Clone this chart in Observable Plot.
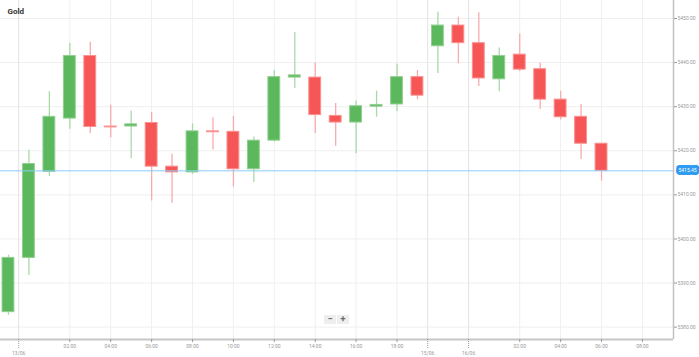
<!DOCTYPE html>
<html><head><meta charset="utf-8">
<script src="https://cdn.jsdelivr.net/npm/d3@7"></script>
<script src="https://cdn.jsdelivr.net/npm/@observablehq/plot@0.6"></script>
<style>
body{margin:0;background:#fff;font-family:Roboto,sans-serif}
#wrap{position:relative;width:699px;height:357px}
#zoom{position:absolute;left:324px;top:315px;display:flex;gap:1px;z-index:2}
#zoom span{display:block;width:12px;height:9px;background:#eeeeee;color:#666;font-size:9px;line-height:9px;text-align:center;font-weight:bold}
</style></head><body>
<div id="wrap"><div id="zoom"><span>−</span><span>+</span></div></div>
<script>
const title = "Gold";
const opens  = [5383.4,5395.7,5415.2,5427.3,5441.5,5425.5,5425.5,5426.3,5416.4,5415.1,5424.4,5424.3,5415.8,5422.3,5436.6,5436.6,5427.9,5426.4,5430.0,5430.5,5436.7,5443.7,5448.4,5444.4,5436.2,5441.8,5438.5,5431.6,5427.7,5421.6];
const highs  = [5396.3,5420.1,5433.4,5444.3,5444.6,5430.3,5429.0,5428.7,5419.2,5426.1,5427.5,5427.8,5423.1,5438.2,5446.8,5439.9,5430.7,5431.3,5433.5,5439.7,5438.2,5451.4,5450.3,5451.3,5443.3,5446.5,5439.9,5433.5,5430.5,5421.6];
const lows   = [5382.7,5391.7,5414.2,5424.9,5423.9,5422.9,5418.2,5408.6,5408.1,5414.6,5420.2,5411.8,5412.8,5422.0,5434.1,5423.9,5421.0,5419.3,5427.6,5428.9,5431.6,5437.5,5439.7,5434.6,5433.4,5438.0,5429.4,5427.0,5418.0,5413.1];
const closes = [5395.7,5417.0,5427.7,5441.5,5425.4,5425.3,5426.0,5416.4,5415.1,5424.4,5424.2,5415.8,5422.3,5436.7,5437.1,5428.1,5426.4,5430.1,5430.4,5436.7,5432.5,5448.4,5444.4,5436.4,5441.5,5438.4,5431.6,5427.6,5421.6,5415.45];
const hourTicks  = [3,5,7,9,11,13,15,17,19,25,27,29,31];
const hourLabels = ["02:00","04:00","06:00","08:00","10:00","12:00","14:00","16:00","18:00","02:00","04:00","06:00","08:00"];
const dateTicks  = [0.5,20.5,22.5];
const dateLabels = ["13/06","15/06","16/06"];
const yTicks = [5380,5390,5400,5410,5420,5430,5440,5450];
const lastPrice = 5415.45;
const xDomain = [-0.39, 32.52];
const yDomain = [5377.2, 5454.08];

const candles = opens.map((o,i)=>({i, open:o, high:highs[i], low:lows[i], close:closes[i], up: closes[i] >= o}));
const upC = candles.filter(d=>d.up), downC = candles.filter(d=>!d.up);
const hourMap = new Map(hourTicks.map((t,i)=>[t,hourLabels[i]]));
const dateMap = new Map(dateTicks.map((t,i)=>[t,dateLabels[i]]));

const GREEN="#5cb85c", GREEN_L="#a9d9a9", GREEN_S="#92cf92";
const RED="#f75656", RED_L="#f8abab", RED_S="#fa9090";

const chart = Plot.plot({
  width:699, height:357, marginLeft:0, marginRight:26, marginTop:0, marginBottom:18,
  style:{fontFamily:"Roboto, sans-serif", background:"#fff", overflow:"visible"},
  x:{domain:xDomain, axis:null, label:null},
  y:{domain:yDomain, axis:null, label:null},
  marks:[
    Plot.gridY(yTicks,{stroke:"#efefef", strokeOpacity:1}),
    Plot.gridX(hourTicks,{stroke:"#efefef", strokeOpacity:1}),
    Plot.gridX(dateTicks,{stroke:"#e3e3e3", strokeOpacity:1}),
    Plot.ruleX(upC,{x:"i", y1:"low", y2:"high", stroke:GREEN_L, strokeWidth:1.3}),
    Plot.ruleX(downC,{x:"i", y1:"low", y2:"high", stroke:RED_L, strokeWidth:1.3}),
    Plot.rect(upC,{x1:d=>d.i-0.29, x2:d=>d.i+0.29, y1:"open", y2:"close", fill:GREEN, stroke:GREEN_S, strokeWidth:1}),
    Plot.rect(downC,{x1:d=>d.i-0.29, x2:d=>d.i+0.29, y1:"open", y2:"close", fill:RED, stroke:RED_S, strokeWidth:1}),
    Plot.ruleY([lastPrice],{stroke:"#8ccbf6", strokeWidth:1}),
    Plot.ruleY([yDomain[0]],{stroke:"#c6c6c6", strokeWidth:2}),
    Plot.ruleX([xDomain[1]],{stroke:"#c2c2c2", strokeWidth:1.5}),
    Plot.axisY(yTicks,{anchor:"right", label:null, tickSize:3, tickPadding:1, fontSize:5, color:"#9a9a9a", tickFormat:d=>d.toFixed(2)}),
    Plot.axisX(hourTicks,{anchor:"bottom", label:null, tickSize:3, tickPadding:2, fontSize:5, color:"#9a9a9a", tickFormat:d=>hourMap.get(d)}),
    Plot.axisX(dateTicks,{anchor:"bottom", label:null, tickSize:9, tickPadding:2.5, fontSize:5, color:"#9a9a9a", strokeDasharray:"1,1", tickFormat:d=>dateMap.get(d)}),
    Plot.text([lastPrice],{y:d=>d, text:d=>d.toFixed(2), frameAnchor:"right", textAnchor:"start", dx:5, fontSize:5, fill:"white", stroke:"#2d9cf2", strokeWidth:6, strokeLinejoin:"round", paintOrder:"stroke"}),
    Plot.text([title],{frameAnchor:"top-left", dx:7, dy:7.6, lineAnchor:"top", textAnchor:"start", fontSize:8, fontWeight:"bold", fill:"#333"})
  ]
});
document.getElementById("wrap").prepend(chart);
</script>
</body></html>
